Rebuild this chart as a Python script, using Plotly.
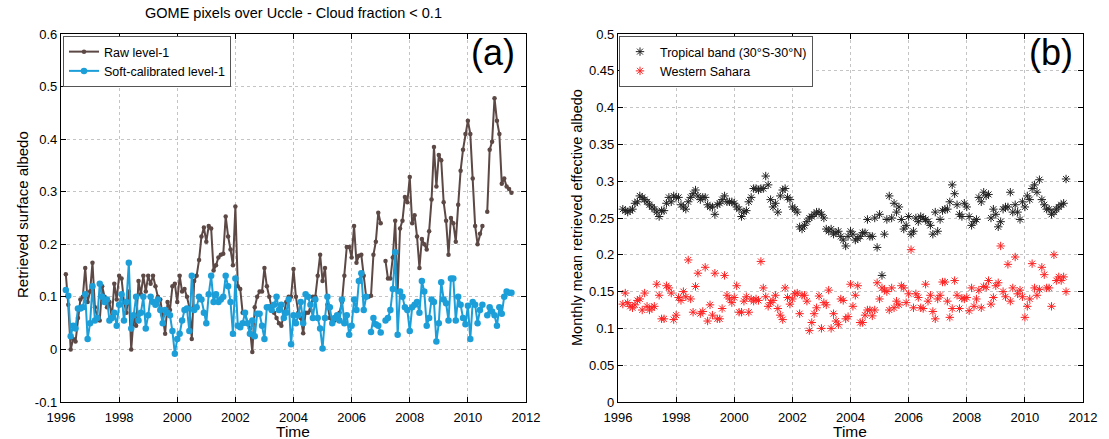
import plotly.graph_objects as go

# ---------------- data: panel (a), monthly values Jan..Dec per year, 1996-2011 ----------------
RAW_START_YEAR = 1996
raw_level1 = [
    None, None, 0.143, 0.085, 0.0, 0.02, 0.015, 0.06, 0.095, 0.1, 0.155, 0.09,          # 1996
    0.11, 0.165, 0.08, 0.06, 0.055, 0.12, 0.1, 0.08, 0.09, 0.06, 0.125, 0.095,         # 1997
    0.14, 0.135, 0.09, 0.07, 0.11, 0.0, 0.06, 0.045, 0.13, 0.105, 0.14, 0.11,          # 1998
    0.14, 0.125, 0.14, 0.12, 0.1, 0.095, 0.065, 0.03, 0.09, 0.075, 0.12, 0.125,        # 1999
    0.09, 0.14, 0.11, 0.115, 0.1, 0.08, 0.02, 0.13, 0.14, 0.17, 0.215, 0.232,          # 2000
    0.205, 0.235, 0.23, 0.15, 0.16, 0.175, 0.18, 0.182, 0.253, 0.215, 0.19, 0.16,      # 2001
    0.272, 0.12, 0.115, 0.07, 0.07, 0.05, 0.04, -0.005, 0.08, 0.1, 0.11, 0.11,         # 2002
    0.155, 0.12, 0.1, 0.08, 0.07, 0.06, 0.05, 0.045, 0.07, 0.09, 0.1, 0.1,             # 2003
    0.153, 0.1, 0.07, 0.06, 0.031, 0.07, 0.07, 0.075, 0.1, 0.1, 0.14, 0.18,            # 2004
    0.13, 0.155, 0.085, 0.06, 0.055, 0.055, 0.06, 0.07, 0.09, 0.14, 0.195, 0.195,      # 2005
    0.175, 0.235, 0.165, 0.178, 0.18, 0.14, 0.1, 0.1, 0.102, 0.18, 0.205, 0.26,        # 2006
    0.24, None, 0.168, 0.135, 0.135, 0.175, 0.245, 0.11, 0.23, 0.245, 0.29, 0.28,      # 2007
    0.328, 0.24, 0.255, 0.215, 0.155, 0.21, 0.2, 0.19, 0.225, 0.285, 0.385, 0.31,      # 2008
    0.37, 0.36, 0.28, 0.245, 0.18, 0.25, 0.24, 0.205, 0.275, 0.34, 0.38, 0.41,         # 2009
    0.435, 0.41, 0.325, 0.235, 0.2, 0.22, 0.235, None, 0.262, 0.38, 0.395, 0.478,      # 2010
    0.435, 0.41, 0.315, 0.325, 0.31, 0.305, 0.298,                                     # 2011
]
soft_calibrated = [
    None, None, 0.113, 0.102, 0.025, 0.045, 0.04, 0.078, 0.078, 0.08, 0.105, 0.02,     # 1996
    0.05, 0.12, 0.055, 0.06, 0.125, 0.1, 0.09, 0.095, 0.055, 0.06, 0.07, 0.045,        # 1997
    0.085, 0.105, 0.055, 0.09, 0.165, 0.04, 0.065, 0.1, 0.055, 0.07, 0.1, 0.04,        # 1998
    0.065, 0.1, 0.09, 0.085, 0.095, 0.075, 0.05, 0.075, 0.07, 0.065, 0.035, -0.008,    # 1999
    0.02, 0.03, 0.055, 0.075, 0.078, 0.035, 0.14, 0.075, 0.08, 0.1, 0.095, 0.07,       # 2000
    0.05, 0.105, 0.14, 0.09, 0.105, 0.09, 0.095, 0.1, 0.14, 0.12, 0.09, 0.03,          # 2001
    0.135, 0.045, 0.042, 0.05, 0.07, 0.05, 0.03, 0.055, 0.025, 0.068, 0.068, 0.045,    # 2002
    0.02, 0.08, 0.08, 0.075, 0.085, 0.1, 0.075, 0.085, 0.06, 0.07, 0.095, 0.01,        # 2003
    0.065, 0.05, 0.065, 0.09, 0.05, 0.105, 0.1, 0.085, 0.06, 0.095, 0.06, 0.04,        # 2004
    0.002, 0.06, 0.1, 0.08, 0.05, 0.06, 0.065, 0.055, 0.095, 0.05, 0.065, 0.028,       # 2005
    0.045, 0.095, 0.075, 0.13, 0.145, 0.075, 0.1, None, 0.033, 0.06, 0.048, 0.045,     # 2006
    0.032, None, 0.055, 0.06, 0.075, 0.115, 0.185, 0.028, 0.11, 0.1, 0.08, 0.075,      # 2007
    0.035, 0.08, 0.085, 0.09, 0.07, 0.13, 0.11, 0.045, 0.06, 0.095, 0.09, 0.015,       # 2008
    0.05, 0.128, 0.095, 0.088, 0.055, 0.135, 0.135, 0.055, 0.1, 0.085, 0.06, 0.048,    # 2009
    0.083, 0.02, 0.09, 0.085, 0.05, 0.075, 0.085, None, 0.065, 0.08, 0.072, 0.065,     # 2010
    0.045, 0.08, 0.068, 0.1, 0.11, 0.108, 0.108,                                       # 2011
]

# ---------------- data: panel (b), monthly means starting March 1996 ----------------
B_START_YEAR = 1996
B_START_MONTH = 3
tropical_band = [
    0.262, 0.26, 0.258, 0.26, 0.262, 0.27, 0.272, 0.28, 0.278, 0.275, 0.272, 0.268,
    0.265, 0.262, 0.258, 0.252, 0.26, 0.26, 0.27, 0.278, 0.272, 0.28, 0.278, 0.278,
    0.268, 0.265, 0.262, 0.272, 0.278, 0.283, 0.288, 0.28, 0.275, 0.278, 0.278, 0.268,
    0.265, 0.265, 0.255, 0.268, 0.27, 0.275, 0.28, 0.272, 0.272, 0.272, 0.27, 0.265,
    0.262, 0.252, 0.258, 0.26, 0.272, 0.278, 0.29, 0.29, 0.288, 0.29, 0.29, 0.307,
    0.295, 0.275, 0.265, 0.27, 0.258, 0.28, 0.288, 0.29, 0.278, 0.275, 0.265, 0.262,
    0.258, 0.238, 0.235, 0.24, 0.245, 0.25, 0.252, 0.255, 0.258, 0.258, 0.255, 0.25,
    0.235, 0.232, 0.235, 0.228, 0.23, 0.232, 0.225, 0.22, 0.212, 0.225, 0.232, 0.228,
    0.22, 0.222, 0.225, 0.23, 0.23, 0.248, 0.225, 0.225, 0.25, 0.21, 0.255, 0.172,
    0.228, 0.248, 0.28, 0.25, 0.27, 0.258, 0.265, 0.248, 0.235, 0.24, 0.252, 0.228,
    0.232, 0.25, 0.245, 0.252, 0.25, 0.248, 0.245, 0.24, 0.228, 0.258, 0.232, 0.248,
    0.26, 0.262, 0.262, 0.272, 0.295, 0.283, 0.268, 0.255, 0.252, 0.27, 0.265, 0.252,
    0.24, 0.245, 0.248, 0.278, 0.272, 0.285, 0.28, 0.282, 0.25, 0.262, 0.255, 0.238,
    0.245, 0.262, 0.265, 0.265, 0.285, 0.258, 0.268, 0.258, 0.248, 0.272, 0.265, 0.28,
    0.275, 0.29, 0.295, 0.285, 0.302, 0.275, 0.268, 0.262, 0.262, 0.255, 0.258, 0.262,
    0.265, 0.268, 0.27, 0.303,
]
western_sahara = [
    0.133, 0.148, 0.135, 0.13, 0.128, 0.132, 0.138, 0.14, 0.125, 0.148, 0.13, 0.125,
    0.128, 0.13, 0.16, 0.145, 0.113, 0.113, 0.158, 0.155, 0.148, 0.112, 0.118, 0.142,
    0.138, 0.15, 0.143, 0.193, 0.14, 0.122, 0.157, 0.175, 0.12, 0.123, 0.183, 0.11,
    0.132, 0.118, 0.175, 0.113, 0.113, 0.127, 0.172, 0.145, 0.14, 0.135, 0.142, 0.158,
    0.122, 0.122, 0.137, 0.143, 0.122, 0.14, 0.137, 0.14, 0.138, 0.191, 0.155, 0.143,
    0.13, 0.135, 0.138, 0.145, 0.127, 0.118, 0.112, 0.155, 0.142, 0.133, 0.14, 0.147,
    0.148, 0.12, 0.145, 0.145, 0.137, 0.097, 0.108, 0.12, 0.128, 0.144, 0.1, 0.135,
    0.132, 0.152, 0.1, 0.12, 0.11, 0.105, 0.14, 0.138, 0.113, 0.116, 0.16, 0.13,
    0.145, 0.158, 0.108, 0.108, 0.118, 0.125, 0.125, 0.117, 0.125, 0.162, 0.14, 0.155,
    0.152, 0.15, 0.125, 0.155, 0.128, 0.137, 0.132, 0.158, 0.155, 0.135, 0.147, 0.207,
    0.128, 0.147, 0.142, 0.128, 0.127, 0.16, 0.137, 0.145, 0.123, 0.113, 0.14, 0.145,
    0.163, 0.163, 0.137, 0.115, 0.127, 0.165, 0.145, 0.127, 0.141, 0.14, 0.142, 0.124,
    0.155, 0.13, 0.14, 0.152, 0.128, 0.157, 0.156, 0.165, 0.133, 0.142, 0.158, 0.162,
    0.212, 0.15, 0.143, 0.187, 0.137, 0.155, 0.197, 0.147, 0.152, 0.143, 0.115, 0.13,
    0.14, 0.188, 0.155, 0.145, 0.153, 0.183, 0.173, 0.155, 0.155, 0.13, 0.2, 0.165,
    0.17, 0.165, 0.17, 0.15,
]

year_ticks = [1996, 1998, 2000, 2002, 2004, 2006, 2008, 2010, 2012]
ya_ticks = [-0.1, 0, 0.1, 0.2, 0.3, 0.4, 0.5, 0.6]
ya_labels = ["-0.1", "0", "0.1", "0.2", "0.3", "0.4", "0.5", "0.6"]
yb_ticks = [0, 0.05, 0.1, 0.15, 0.2, 0.25, 0.3, 0.35, 0.4, 0.45, 0.5]
yb_labels = ["0", "0.05", "0.1", "0.15", "0.2", "0.25", "0.3", "0.35", "0.4", "0.45", "0.5"]

# time axis (decimal years, one value per month)
t_a = [RAW_START_YEAR + i / 12 for i in range(len(raw_level1))]
t_a2 = [RAW_START_YEAR + i / 12 for i in range(len(soft_calibrated))]
t_b1 = [B_START_YEAR + (B_START_MONTH - 1 + i) / 12 for i in range(len(tropical_band))]
t_b2 = [B_START_YEAR + (B_START_MONTH - 1 + i) / 12 for i in range(len(western_sahara))]

FONT = "Liberation Sans, Arial, Helvetica, sans-serif"
BROWN = "#5c4845"
BLUE = "#1c9ed8"

fig = go.Figure()
fig.add_trace(go.Scatter(
    x=t_a, y=raw_level1, mode="lines+markers", name="Raw level-1",
    line=dict(color=BROWN, width=2), marker=dict(color=BROWN, size=4.5),
    xaxis="x", yaxis="y", legend="legend"))
fig.add_trace(go.Scatter(
    x=t_a2, y=soft_calibrated, mode="lines+markers", name="Soft-calibrated level-1",
    line=dict(color=BLUE, width=2), marker=dict(color=BLUE, size=6.5),
    xaxis="x", yaxis="y", legend="legend"))
fig.add_trace(go.Scatter(
    x=t_b1, y=tropical_band, mode="markers", name="Tropical band (30°S-30°N)",
    marker=dict(symbol="asterisk-open", size=7, color="#222222",
                line=dict(color="#222222", width=1)),
    xaxis="x2", yaxis="y2", legend="legend2"))
fig.add_trace(go.Scatter(
    x=t_b2, y=western_sahara, mode="markers", name="Western Sahara",
    marker=dict(symbol="asterisk-open", size=7, color="#ff2222",
                line=dict(color="#ff2222", width=1)),
    xaxis="x2", yaxis="y2", legend="legend2"))

W, H = 1109, 439
ax_common = dict(showline=True, linecolor="black", linewidth=1.3, mirror="ticks",
                 ticks="inside", ticklen=5, tickcolor="black", tickwidth=1.2,
                 showgrid=True, gridcolor="#c4c4c4", griddash="dot", gridwidth=1,
                 zeroline=False, automargin=False,
                 tickfont=dict(size=13, color="black", family=FONT))
ydom = [37 / H, 405 / H]

fig.update_layout(
    width=W, height=H, margin=dict(l=0, r=0, t=0, b=0),
    paper_bgcolor="white", plot_bgcolor="white",
    font=dict(family=FONT, color="black"),
    xaxis=dict(domain=[61 / W, 526 / W], range=[1996, 2012], tickvals=year_ticks,
               anchor="y", ticklabelstandoff=3, **ax_common),
    yaxis=dict(domain=ydom, range=[-0.1, 0.6], tickvals=ya_ticks, ticktext=ya_labels,
               anchor="x", **ax_common),
    xaxis2=dict(domain=[618 / W, 1083 / W], range=[1996, 2012], tickvals=year_ticks,
                anchor="y2", ticklabelstandoff=3, **ax_common),
    yaxis2=dict(domain=ydom, range=[0, 0.5], tickvals=yb_ticks, ticktext=yb_labels,
                anchor="x2", **ax_common),
    legend=dict(x=63 / W, y=1 - 36 / H, xanchor="left", yanchor="top",
                bgcolor="white", bordercolor="#555555", borderwidth=1,
                font=dict(size=12.5, family=FONT, color="black"), tracegroupgap=0),
    legend2=dict(x=619 / W, y=1 - 36 / H, xanchor="left", yanchor="top",
                 bgcolor="white", bordercolor="#555555", borderwidth=1,
                 font=dict(size=12.5, family=FONT, color="black"), tracegroupgap=0),
    showlegend=True,
)

ann = []
ann.append(dict(text="GOME pixels over Uccle - Cloud fraction < 0.1", x=293 / W, y=1 - 13 / H,
                xref="paper", yref="paper", showarrow=False, xanchor="center", yanchor="middle",
                font=dict(size=14.5, family=FONT, color="black")))
ann.append(dict(text="(a)", x=493 / W, y=1 - 53 / H, xref="paper", yref="paper",
                showarrow=False, xanchor="center", yanchor="middle",
                font=dict(size=36, family=FONT, color="black")))
ann.append(dict(text="(b)", x=1051 / W, y=1 - 53 / H, xref="paper", yref="paper",
                showarrow=False, xanchor="center", yanchor="middle",
                font=dict(size=36, family=FONT, color="black")))
ann.append(dict(text="Time", x=293 / W, y=1 - 431 / H, xref="paper", yref="paper",
                showarrow=False, xanchor="center", yanchor="middle",
                font=dict(size=15.5, family=FONT, color="black")))
ann.append(dict(text="Time", x=850 / W, y=1 - 431 / H, xref="paper", yref="paper",
                showarrow=False, xanchor="center", yanchor="middle",
                font=dict(size=15.5, family=FONT, color="black")))
ann.append(dict(text="Retrieved surface albedo", x=22 / W, y=1 - 215 / H, xref="paper",
                yref="paper", showarrow=False, textangle=-90, xanchor="center",
                yanchor="middle", font=dict(size=15, family=FONT, color="black")))
ann.append(dict(text="Monthly mean retrieved effective albedo", x=577 / W, y=1 - 218 / H,
                xref="paper", yref="paper", showarrow=False, textangle=-90,
                xanchor="center", yanchor="middle",
                font=dict(size=14.5, family=FONT, color="black")))
fig.update_layout(annotations=ann)

fig.write_html("out.html")
